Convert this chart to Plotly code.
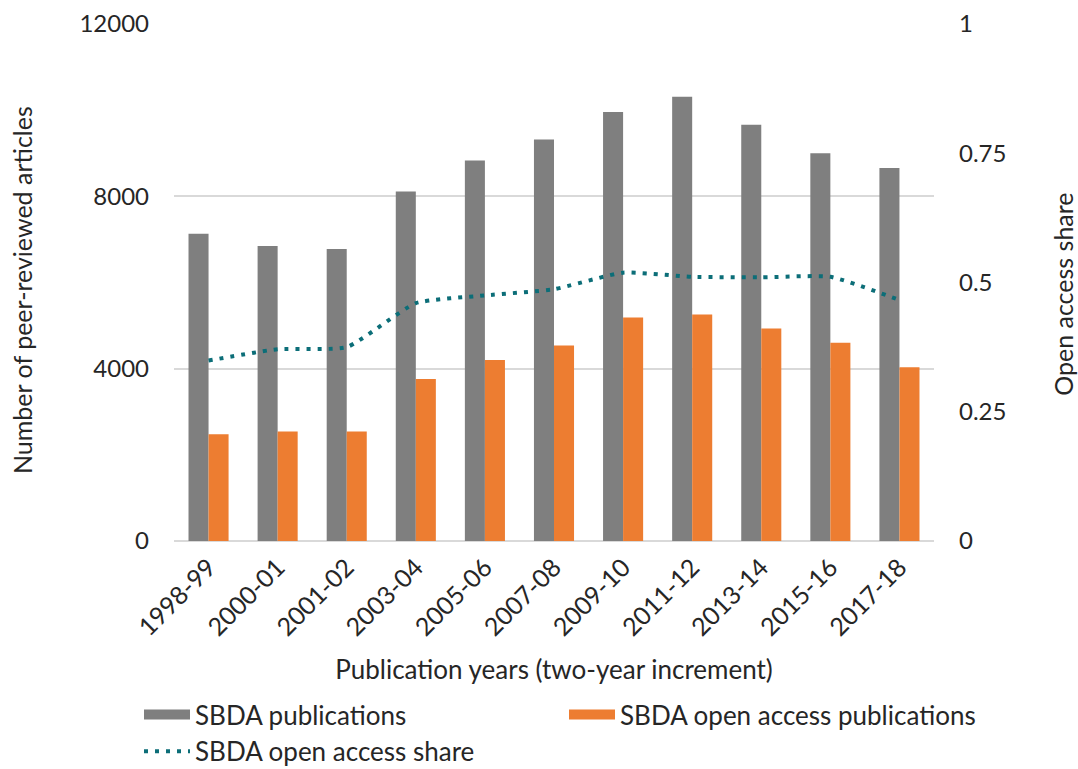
import plotly.graph_objects as go

# Two-year publication windows
periods = ["1998-99", "2000-01", "2001-02", "2003-04", "2005-06", "2007-08",
           "2009-10", "2011-12", "2013-14", "2015-16", "2017-18"]

# Peer-reviewed SBDA articles per window
sbda_publications = [7130, 6850, 6780, 8110, 8830, 9320, 9960, 10310, 9660, 9000, 8660]

# Of which open access
sbda_oa_publications = [2480, 2540, 2540, 3760, 4200, 4540, 5190, 5260, 4930, 4600, 4030]

# Open access share per window
sbda_oa_share = [0.349, 0.371, 0.375, 0.46, 0.475, 0.487, 0.519, 0.511, 0.51, 0.511, 0.466]

FONT = "Lato"
GRAY = "#7F7F7F"
ORANGE = "#ED7D31"
TEAL = "#0C6E78"
TXT = "#262626"

fig = go.Figure()

fig.add_trace(go.Bar(
    x=periods, y=sbda_publications, name="SBDA publications",
    marker=dict(color=GRAY, line=dict(width=0)), showlegend=False,
))
fig.add_trace(go.Bar(
    x=periods, y=sbda_oa_publications, name="SBDA open access publications",
    marker=dict(color=ORANGE, line=dict(width=0)), showlegend=False,
))

# Legend keys for the bar series, drawn as wide flat swatches (no data points)
fig.add_trace(go.Scatter(
    x=[periods[0]], y=[None], mode="lines", name="SBDA publications",
    line=dict(color=GRAY, width=14), legend="legend", hoverinfo="skip",
))
fig.add_trace(go.Scatter(
    x=[periods[0]], y=[None], mode="lines", name="SBDA open access publications",
    line=dict(color=ORANGE, width=14), legend="legend2", hoverinfo="skip",
))

fig.add_trace(go.Scatter(
    x=periods, y=sbda_oa_share, name="SBDA open access share",
    mode="lines", yaxis="y2", legend="legend",
    line=dict(color=TEAL, width=4, dash="4px,7px", shape="spline", smoothing=0.5),
))

legend_common = dict(
    orientation="v", xref="container", yref="container",
    xanchor="left", yanchor="top",
    font=dict(family=FONT, size=26, color=TXT),
    itemwidth=46, tracegroupgap=0, traceorder="normal",
    bgcolor="rgba(0,0,0,0)", borderwidth=0,
)

# Vertical axis titles
axis_titles = [
    dict(text="Number of peer-reviewed articles", x=-0.2, y=0.4855),
    dict(text="Open access share", x=1.1697, y=0.478),
]

fig.update_layout(
    width=1078, height=769,
    margin=dict(l=174, r=144, t=24, b=228, autoexpand=False),
    paper_bgcolor="white", plot_bgcolor="white",
    font=dict(family=FONT, size=24, color=TXT),
    barmode="group", bargap=0.42, bargroupgap=0,
    showlegend=True,
    legend=dict(legend_common, x=139 / 1078, y=1 - 691 / 769),
    legend2=dict(legend_common, x=564 / 1078, y=1 - 691 / 769),
    xaxis=dict(
        type="category", categoryorder="array", categoryarray=periods,
        tickangle=-45, showgrid=False, showline=False, ticks="",
        ticklabelstandoff=6,
        tickfont=dict(family=FONT, size=25, color=TXT),
        title=dict(text="Publication years (two-year increment)",
                   font=dict(family=FONT, size=26, color=TXT), standoff=20),
    ),
    yaxis=dict(
        range=[0, 12000], dtick=4000, tickformat="d",
        showgrid=True, gridcolor="#D9D9D9", gridwidth=1.5,
        zeroline=True, zerolinecolor="#D9D9D9", zerolinewidth=1.5,
        ticks="", ticklabelstandoff=24,
        tickfont=dict(family=FONT, size=24, color=TXT),
    ),
    yaxis2=dict(
        overlaying="y", side="right", range=[0, 1], dtick=0.25,
        showgrid=False, zeroline=False, ticks="", ticklabelstandoff=24,
        tickfont=dict(family=FONT, size=24, color=TXT),
    ),
    annotations=[
        dict(text=t["text"], x=t["x"], y=t["y"], xref="paper", yref="paper",
             xanchor="center", yanchor="middle", textangle=-90, showarrow=False,
             font=dict(family=FONT, size=25, color=TXT))
        for t in axis_titles
    ],
)

fig.write_html("out.html")
